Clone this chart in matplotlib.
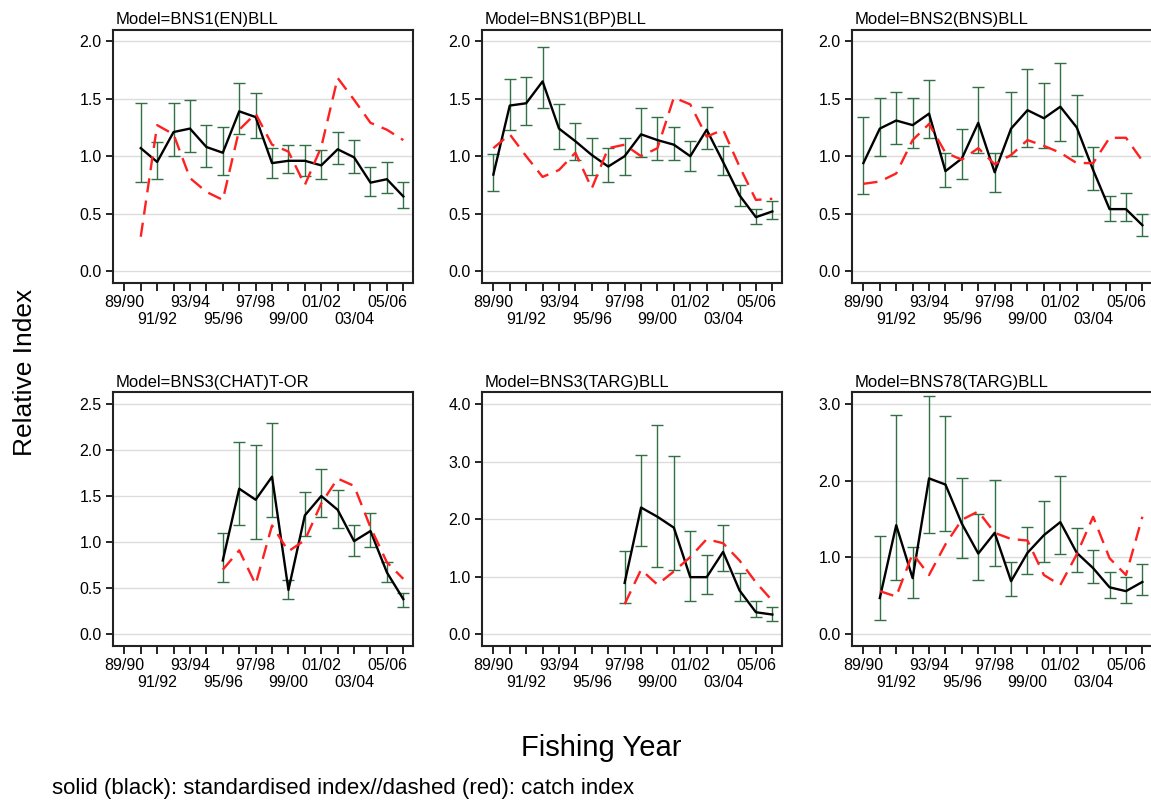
import numpy as np
import matplotlib
matplotlib.use("Agg")
import matplotlib.pyplot as plt

plt.rcParams['font.family'] = ['Liberation Sans', 'DejaVu Sans']

nan = np.nan

# fishing years (x axis)
years = ['89/90', '90/91', '91/92', '92/93', '93/94', '94/95', '95/96', '96/97', '97/98',
         '98/99', '99/00', '00/01', '01/02', '02/03', '03/04', '04/05', '05/06', '06/07']

# panel titles
models = ['BNS1(EN)BLL', 'BNS1(BP)BLL', 'BNS2(BNS)BLL',
          'BNS3(CHAT)T-OR', 'BNS3(TARG)BLL', 'BNS78(TARG)BLL']
ymax = [2.0, 2.0, 2.0, 2.5, 4.0, 3.0]
ystep = [0.5, 0.5, 0.5, 0.5, 1.0, 1.0]

# standardised index, lower CI, upper CI, catch index
std1 = [nan, 1.07, 0.95, 1.21, 1.24, 1.08, 1.03, 1.39, 1.34, 0.94, 0.96, 0.96, 0.92, 1.06, 0.99, 0.77, 0.80, 0.65]
lo1 = [nan, 0.78, 0.80, 1.00, 1.04, 0.91, 0.84, 1.19, 1.16, 0.81, 0.85, 0.83, 0.80, 0.93, 0.85, 0.65, 0.68, 0.55]
hi1 = [nan, 1.46, 1.12, 1.46, 1.49, 1.27, 1.25, 1.64, 1.55, 1.07, 1.10, 1.10, 1.05, 1.21, 1.14, 0.91, 0.95, 0.78]
cat1 = [nan, 0.30, 1.27, 1.19, 0.81, 0.69, 0.62, 1.23, 1.37, 1.10, 1.04, 0.75, 1.08, 1.68, 1.49, 1.29, 1.23, 1.14]

std2 = [0.84, 1.44, 1.46, 1.65, 1.24, 1.13, 1.01, 0.91, 1.00, 1.19, 1.14, 1.10, 1.00, 1.23, 0.95, 0.66, 0.47, 0.52]
lo2 = [0.70, 1.23, 1.27, 1.42, 1.06, 0.97, 0.84, 0.78, 0.84, 0.99, 0.97, 0.97, 0.87, 1.06, 0.84, 0.57, 0.41, 0.45]
hi2 = [1.02, 1.67, 1.69, 1.95, 1.45, 1.29, 1.16, 1.07, 1.16, 1.42, 1.34, 1.25, 1.13, 1.43, 1.09, 0.75, 0.54, 0.61]
cat2 = [1.07, 1.19, 1.00, 0.82, 0.88, 1.03, 0.72, 1.07, 1.10, 1.00, 1.07, 1.51, 1.45, 1.17, 1.23, 0.91, 0.62, 0.63]

std3 = [0.94, 1.24, 1.31, 1.27, 1.37, 0.87, 0.98, 1.29, 0.86, 1.24, 1.40, 1.33, 1.43, 1.25, 0.88, 0.54, 0.54, 0.40]
lo3 = [0.67, 1.00, 1.11, 1.07, 1.16, 0.73, 0.80, 1.03, 0.69, 1.00, 1.08, 1.07, 1.13, 1.00, 0.71, 0.44, 0.44, 0.31]
hi3 = [1.34, 1.51, 1.56, 1.51, 1.66, 1.03, 1.24, 1.60, 1.03, 1.56, 1.76, 1.64, 1.81, 1.53, 1.08, 0.65, 0.68, 0.50]
cat3 = [0.76, 0.78, 0.85, 1.14, 1.28, 1.03, 0.97, 1.07, 0.93, 1.01, 1.14, 1.09, 1.03, 0.94, 0.94, 1.16, 1.16, 0.96]

std4 = [nan] * 6 + [0.80, 1.58, 1.46, 1.71, 0.48, 1.29, 1.50, 1.35, 1.01, 1.12, 0.67, 0.38]
lo4 = [nan] * 6 + [0.57, 1.19, 1.03, 1.27, 0.38, 1.07, 1.27, 1.15, 0.85, 0.95, 0.57, 0.29]
hi4 = [nan] * 6 + [1.10, 2.09, 2.05, 2.29, 0.59, 1.54, 1.79, 1.57, 1.18, 1.32, 0.78, 0.45]
cat4 = [nan] * 6 + [0.70, 0.91, 0.54, 1.18, 0.90, 1.02, 1.42, 1.69, 1.61, 1.16, 0.78, 0.60]

std5 = [nan] * 8 + [0.89, 2.20, 2.04, 1.85, 0.99, 0.99, 1.43, 0.76, 0.38, 0.34]
lo5 = [nan] * 8 + [0.54, 1.54, 1.16, 1.12, 0.57, 0.69, 1.09, 0.57, 0.29, 0.22]
hi5 = [nan] * 8 + [1.44, 3.12, 3.63, 3.10, 1.79, 1.38, 1.90, 1.07, 0.57, 0.47]
cat5 = [nan] * 8 + [0.52, 1.12, 0.86, 1.09, 1.34, 1.65, 1.58, 1.28, 0.90, 0.58]

std6 = [nan, 0.47, 1.42, 0.73, 2.03, 1.95, 1.44, 1.05, 1.32, 0.69, 1.06, 1.29, 1.46, 1.06, 0.86, 0.61, 0.56, 0.68]
lo6 = [nan, 0.18, 0.71, 0.47, 1.32, 1.34, 0.99, 0.70, 0.89, 0.50, 0.78, 0.94, 1.04, 0.81, 0.66, 0.47, 0.40, 0.51]
hi6 = [nan, 1.28, 2.86, 1.13, 3.10, 2.84, 2.04, 1.56, 2.01, 0.94, 1.39, 1.73, 2.06, 1.38, 1.10, 0.81, 0.74, 0.91]
cat6 = [nan, 0.56, 0.49, 1.05, 0.77, 1.17, 1.49, 1.60, 1.32, 1.24, 1.22, 0.77, 0.64, 1.04, 1.53, 0.99, 0.77, 1.53]

stds = [std1, std2, std3, std4, std5, std6]
los = [lo1, lo2, lo3, lo4, lo5, lo6]
his = [hi1, hi2, hi3, hi4, hi5, hi6]
cats = [cat1, cat2, cat3, cat4, cat5, cat6]

fig = plt.figure(figsize=(11.51, 8.01), dpi=100)

lefts = [0.0979, 0.4185, 0.740]
bottoms = [0.647, 0.194]
w, h = 0.2612, 0.316

x = np.arange(len(years))
# first row of labels on major ticks, second row on minor ticks
major_x = x[0::4]
major_lab = [years[i] for i in major_x]
minor_x = [i for i in x if i % 4 != 0]
minor_lab = [years[i] if i % 4 == 2 else '' for i in minor_x]

for k in range(6):
    ax = fig.add_axes([lefts[k % 3], bottoms[k // 3], w, h])
    s = np.array(stds[k])
    lo = np.array(los[k])
    hi = np.array(his[k])
    c = np.array(cats[k])
    m = ~np.isnan(s)

    # error bars
    ax.errorbar(x[m], s[m], yerr=[s[m] - lo[m], hi[m] - s[m]], fmt='none',
                ecolor='#2f7045', elinewidth=1.0, capsize=4.5, capthick=1.0, zorder=2)
    # standardised index
    ax.plot(x[m], s[m], color='black', lw=1.7, zorder=3)
    # catch index
    ax.plot(x[m], c[m], color='#ff2020', lw=1.7, linestyle=(0, (6, 3.5)), zorder=4)

    ax.set_xlim(-0.71, 17.61)
    top = ymax[k]
    ax.set_ylim(-0.05 * top, 1.05 * top)
    yt = np.arange(0, top + 1e-9, ystep[k])
    ax.set_yticks(yt)
    ax.set_yticklabels(['%.1f' % v for v in yt])
    ax.yaxis.grid(True, color='#dcdcdc', lw=1.0)
    ax.set_axisbelow(True)

    ax.set_xticks(major_x)
    ax.set_xticklabels(major_lab)
    ax.set_xticks(minor_x, minor=True)
    ax.set_xticklabels(minor_lab, minor=True)
    ax.tick_params(axis='x', which='major', length=6, width=1.2, labelsize=11.5, pad=3)
    ax.tick_params(axis='x', which='minor', length=6, width=1.2, labelsize=11.5, pad=15)
    ax.tick_params(axis='y', length=5, width=1.2, labelsize=11.5, pad=3)
    for sp in ax.spines.values():
        sp.set_linewidth(1.5)
        sp.set_color('#222222')

    ax.text(0.01, 1.01, 'Model=' + models[k], transform=ax.transAxes,
            ha='left', va='bottom', fontsize=12)

fig.text(0.022, 0.535, 'Relative Index', rotation=90, ha='center', va='center', fontsize=19)
fig.text(0.522, 0.066, 'Fishing Year', ha='center', va='center', fontsize=21)
fig.text(0.045, 0.016, 'solid (black): standardised index//dashed (red): catch index',
         ha='left', va='center', fontsize=16)

fig.savefig('out.png', dpi=100)
